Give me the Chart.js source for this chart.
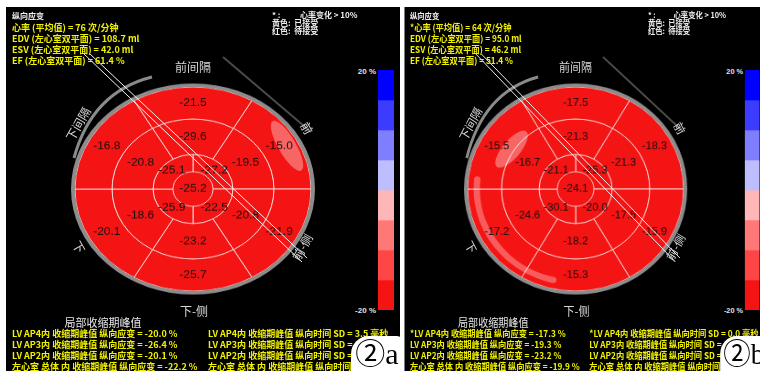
<!DOCTYPE html>
<html>
<head>
<meta charset="utf-8">
<script src="https://cdn.jsdelivr.net/npm/chart.js@4.4.0/dist/chart.umd.min.js"></script>
<style>
  body { margin: 0; width: 760px; height: 371px; overflow: hidden; position: relative; background: #fff; }
  .panel { position: absolute; top: 0; width: 400px; height: 371px; }
  .bg { position: absolute; left: 6px; top: 7px; width: 394px; height: 364px; background: #000; }
  .txt { position: absolute; white-space: pre; line-height: 1; font-family: "Noto Sans CJK SC", sans-serif; }
  .info { font-size: 9px; font-weight: bold; color: #f2f200; }
  .head { font-size: 8px; font-weight: bold; color: #eee; }
  .side { font-size: 12px; color: #d8d8d8; }
  .sub { font-size: 11px; color: #e6e6e6; }
  .tick { font-size: 8px; font-weight: bold; color: #e0e0e0; font-family: "Liberation Sans", sans-serif; }
  .tag { position: absolute; left: 351px; top: 336px; width: 52px; height: 36px; background: #fff;
         border-radius: 18px 6px 0 0; font-family: "Liberation Serif", "Noto Sans CJK SC", serif;
         font-size: 30px; line-height: 36px; color: #000; text-align: center; }
  canvas { position: absolute; }
  svg { position: absolute; left: 0; top: 0; }
</style>
</head>
<body>
<script>
// segment order: top, upper right, lower right, bottom, lower left, upper left
const sideNames = ['前间隔', '前', '前-侧', '下-侧', '下', '下间隔'];

// ②a
const basalA = [-21.5, -15.0, -21.9, -25.7, -20.1, -16.8];
const midA = [-29.6, -19.5, -20.8, -23.2, -18.6, -20.8];
const apicalA = [-27.2, -22.5, -25.9, -25.1]; // upper right, lower right, lower left, upper left
const apexA = [-25.2];

// ②b
const basalB = [-17.5, -18.3, -15.9, -15.3, -17.2, -15.5];
const midB = [-21.3, -21.3, -17.5, -18.2, -24.6, -16.7];
const apicalB = [-25.3, -20.0, -30.1, -21.1];
const apexB = [-24.1];

// colour scale, top to bottom
const scaleEdges = [20, 15, 10, 5, 0, -5, -10, -15, -20];
const scaleColors = ['#0000ff', '#3c3cff', '#7e7eff', '#bdbdff', '#ffb6b6', '#ff7878', '#ff4646', '#f41414'];
const scaleTicks = ['20 %', '-20 %'];

const infoA = ['心率 (平均值) = 76 次/分钟', 'EDV (左心室双平面) = 108.7 ml', 'ESV (左心室双平面) = 42.0 ml', 'EF (左心室双平面) = 61.4 %'];
const infoB = ['*心率 (平均值) = 64 次/分钟', 'EDV (左心室双平面) = 95.0 ml', 'ESV (左心室双平面) = 46.2 ml', 'EF (左心室双平面) = 51.4 %'];

const peakNames = ['LV AP4内 收缩期峰值 纵向应变', 'LV AP3内 收缩期峰值 纵向应变', 'LV AP2内 收缩期峰值 纵向应变', '左心室 总体 内 收缩期峰值 纵向应变'];
const peakA = [-20.0, -26.4, -20.1, -22.2];
const peakB = [-17.3, -19.3, -23.2, -19.9];
const sdA = ['LV AP4内 收缩期峰值 纵向时间 SD = 3.5 毫秒', 'LV AP3内 收缩期峰值 纵向时间 SD =', 'LV AP2内 收缩期峰值 纵向时间 SD =', '左心室 总体 内 收缩期峰值 纵向时间 SD'];
const sdB = ['*LV AP4内 收缩期峰值 纵向时间 SD = 0.0 毫秒', 'LV AP3内 收缩期峰值 纵向时间 SD =', 'LV AP2内 收缩期峰值 纵向时间 SD =', '左心室 总体 内 收缩期峰值 纵向时间 SD'];

function colorFor(v) {
  for (let i = 0; i < scaleColors.length; i++) {
    if (v > scaleEdges[i + 1]) return scaleColors[i];
  }
  return scaleColors[scaleColors.length - 1];
}

function addText(parent, text, x, y, cls, align, rot) {
  const el = document.createElement('div');
  el.className = 'txt ' + cls;
  el.textContent = text;
  el.style.left = x + 'px';
  el.style.top = y + 'px';
  let tf = 'translateY(-50%)';
  if (align === 'center') tf = 'translate(-50%,-50%)';
  if (align === 'right') tf = 'translate(-100%,-50%)';
  if (rot) tf += ' rotate(' + rot + 'deg)';
  el.style.transform = tf;
  parent.appendChild(el);
}

// values in the middle of each segment, ring and glare on top
const bullseyeDecor = {
  id: 'bullseyeDecor',
  afterDatasetsDraw(chart, args, opts) {
    const ctx = chart.ctx;
    const cx = (chart.chartArea.left + chart.chartArea.right) / 2;
    const cy = (chart.chartArea.top + chart.chartArea.bottom) / 2;
    ctx.save();
    (opts.glare || []).forEach(g => {
      ctx.save();
      ctx.translate(cx + g.x, cy + g.y);
      ctx.rotate(g.a * Math.PI / 180);
      ctx.fillStyle = 'rgba(255,235,235,0.38)';
      ctx.beginPath();
      ctx.ellipse(0, 0, g.rx, g.ry, 0, 0, Math.PI * 2);
      ctx.fill();
      ctx.restore();
    });
    (opts.rims || []).forEach(r => {
      ctx.strokeStyle = 'rgba(255,225,225,0.35)';
      ctx.lineWidth = r.w;
      ctx.lineCap = 'round';
      ctx.beginPath();
      ctx.arc(cx, cy, r.r, r.a0 * Math.PI / 180, r.a1 * Math.PI / 180);
      ctx.stroke();
    });
    ctx.font = '12px "Liberation Sans", Arial, sans-serif';
    ctx.fillStyle = '#151010';
    ctx.textAlign = 'center';
    ctx.textBaseline = 'middle';
    chart.data.datasets.forEach((ds, i) => {
      chart.getDatasetMeta(i).data.forEach((arc, j) => {
        const p = arc.getProps(['x', 'y', 'startAngle', 'endAngle', 'innerRadius', 'outerRadius']);
        const a = (p.startAngle + p.endAngle) / 2;
        let r = (p.innerRadius + p.outerRadius) / 2;
        if (p.endAngle - p.startAngle > Math.PI * 1.99) r = 0;
        ctx.fillText(ds.strain[j].toFixed(1), p.x + r * Math.cos(a), p.y + r * Math.sin(a));
      });
    });
    ctx.strokeStyle = '#8c8c8c';
    ctx.lineWidth = 4;
    ctx.beginPath();
    ctx.arc(cx, cy, 120, 0, Math.PI * 2);
    ctx.stroke();
    ctx.restore();
  }
};

function ring(values, weight, rotation, border) {
  return {
    data: values.map(() => 1),
    strain: values,
    weight: weight,
    rotation: rotation,
    radius: 118,
    backgroundColor: values.map(colorFor),
    borderColor: 'rgba(255,222,222,0.9)',
    borderWidth: border
  };
}

function makePanel(left, scaleX, basal, mid, apical, apex, info, peak, sd, tagText, decor) {
  const panel = document.createElement('div');
  panel.className = 'panel';
  panel.style.left = left + 'px';
  panel.style.transformOrigin = '0 0';
  panel.style.transform = 'scaleX(' + scaleX + ')';
  document.body.appendChild(panel);

  const bg = document.createElement('div');
  bg.className = 'bg';
  panel.appendChild(bg);

  // bull's eye
  const cv = document.createElement('canvas');
  cv.width = 250; cv.height = 250;
  cv.style.left = '68px'; cv.style.top = '64px';
  cv.style.transform = 'scaleY(0.865)';
  panel.appendChild(cv);
  new Chart(cv, {
    type: 'doughnut',
    data: {
      labels: sideNames,
      datasets: [
        ring(basal, 37, -30, 1),
        ring(mid, 41, -30, 1),
        ring(apical, 20, 0, 1),
        ring(apex, 20, 0, 0)
      ]
    },
    options: {
      responsive: false,
      animation: false,
      events: [],
      cutout: 0,
      radius: 118,
      layout: { padding: 0 },
      plugins: { legend: { display: false }, tooltip: { enabled: false }, bullseyeDecor: decor }
    },
    plugins: [bullseyeDecor]
  });

  // colour scale
  const cb = document.createElement('canvas');
  cb.width = 16; cb.height = 240;
  cb.style.left = '378px'; cb.style.top = '70px';
  panel.appendChild(cb);
  new Chart(cb, {
    type: 'bar',
    data: {
      labels: [''],
      datasets: scaleColors.map((c, i) => ({
        data: [[scaleEdges[i + 1], scaleEdges[i]]],
        backgroundColor: c,
        borderWidth: 0,
        grouped: false,
        barPercentage: 1,
        categoryPercentage: 1
      }))
    },
    options: {
      responsive: false,
      animation: false,
      events: [],
      layout: { padding: 0 },
      plugins: { legend: { display: false }, tooltip: { enabled: false } },
      scales: { x: { display: false }, y: { display: false, min: -20, max: 20 } }
    }
  });
  addText(panel, scaleTicks[0], 376, 72, 'tick', 'right');
  addText(panel, scaleTicks[1], 376, 311, 'tick', 'right');

  // overlay lines
  const ns = 'http://www.w3.org/2000/svg';
  const svg = document.createElementNS(ns, 'svg');
  svg.setAttribute('width', '400'); svg.setAttribute('height', '371');
  svg.innerHTML =
    '<path d="M152 77 Q92 92 74 158" fill="none" stroke="#8a8a8a" stroke-width="3"/>' +
    '<line x1="223" y1="57" x2="311" y2="132" stroke="#4a4a4a" stroke-width="2"/>' +
    '<line x1="84" y1="54" x2="302" y2="262" stroke="#f4f4f4" stroke-width="1"/>' +
    '<line x1="90" y1="54" x2="307" y2="258" stroke="#f4f4f4" stroke-width="1"/>';
  panel.appendChild(svg);

  // orientation labels
  addText(panel, sideNames[0], 193, 67, 'side', 'center');
  addText(panel, sideNames[1], 307, 128, 'side', 'center', 60);
  addText(panel, sideNames[2], 302, 247, 'side', 'center', -60);
  addText(panel, sideNames[3], 194, 311, 'side', 'center');
  addText(panel, sideNames[4], 79, 247, 'side', 'center', 60);
  addText(panel, sideNames[5], 78, 124, 'side', 'center', -60);

  // header text
  addText(panel, '纵向应变', 12, 16, 'head');
  info.forEach((s, i) => addText(panel, s, 12, 27 + i * 11, 'info'));
  addText(panel, '* :', 272, 15, 'head');
  addText(panel, '心率变化 > 10%', 300, 15, 'head');
  addText(panel, '黄色:  已接受', 272, 23, 'head');
  addText(panel, '红色:  待接受', 272, 31, 'head');

  // bottom table
  addText(panel, '局部收缩期峰值', 103, 322, 'sub', 'center');
  peak.forEach((v, i) => {
    const star = (tagText === '②b' && i === 0) ? '*' : '';
    addText(panel, star + peakNames[i] + ' = ' + v.toFixed(1) + ' %', 12, 333 + i * 11, 'info');
  });
  sd.forEach((s, i) => addText(panel, s, 208, 333 + i * 11, 'info'));

  const tag = document.createElement('div');
  tag.className = 'tag';
  tag.textContent = tagText;
  panel.appendChild(tag);
}

makePanel(0, 1, basalA, midA, apicalA, apexA, infoA, peakA, sdA, '②a',
  { glare: [{ x: 94, y: -50, rx: 9, ry: 32, a: -26 }], rims: [] });
makePanel(399, 0.915, basalB, midB, apicalB, apexB, infoB, peakB, sdB, '②b',
  { glare: [{ x: -70, y: -46, rx: 10, ry: 26, a: 38 }], rims: [{ r: 108, a0: 103, a1: 186, w: 7 }] });
</script>
</body>
</html>
